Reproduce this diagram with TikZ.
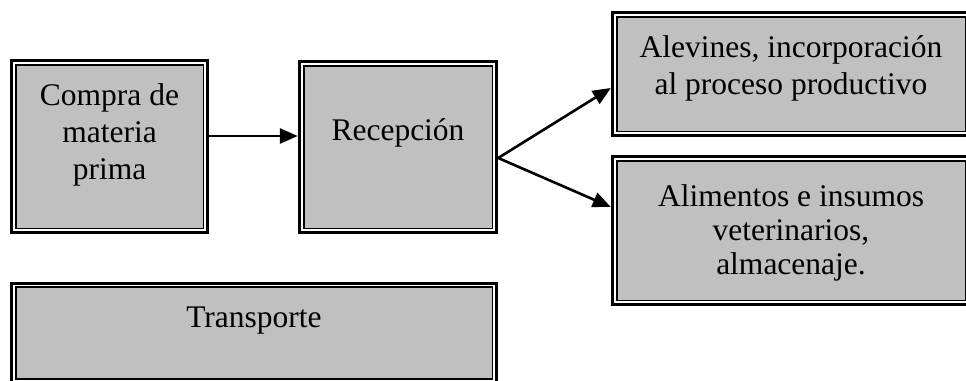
\documentclass[tikz,border=0pt]{standalone}
\usepackage{fontspec}
\setmainfont{Liberation Serif}
\usepackage{xcolor}
\usetikzlibrary{arrows.meta,positioning}
\definecolor{boxgray}{RGB}{192,192,192}

\begin{document}
\begin{tikzpicture}[x=1pt,y=-1pt,>={Triangle[length=18pt,width=15pt]},
  caja/.style={draw,line width=3.4pt,fill=white,inner sep=0pt},
  marco/.style={line width=1.8pt,fill=boxgray},
  txt/.style={inner sep=0pt,align=center,font=\fontsize{31.5}{34}\selectfont},
  flecha/.style={->,line width=2.6pt}]
  \useasboundingbox (0,0) rectangle (966,380);
  \clip (0,0) rectangle (966,380);
  % cajas
  \node[caja,minimum width=196pt,minimum height=172pt] (compra) at (109.5,146.5) {};
  \node[caja,minimum width=197pt,minimum height=171pt] (recep) at (398,147) {};
  \node[caja,minimum width=357pt,minimum height=123pt] (alev) at (791,74) {};
  \node[caja,minimum width=357pt,minimum height=148pt] (alim) at (791,230.5) {};
  \node[caja,minimum width=485pt,minimum height=99.5pt] (trans) at (254,333) {};
  % marco interior
  \draw[marco] ([xshift=5.8pt,yshift=-5.8pt]compra.north west) rectangle ([xshift=-5.8pt,yshift=5.8pt]compra.south east);
  \draw[marco] ([xshift=5.8pt,yshift=-5.8pt]recep.north west) rectangle ([xshift=-5.8pt,yshift=5.8pt]recep.south east);
  \draw[marco] ([xshift=5.8pt,yshift=-5.8pt]alev.north west) rectangle ([xshift=-5.8pt,yshift=5.8pt]alev.south east);
  \draw[marco] ([xshift=5.8pt,yshift=-5.8pt]alim.north west) rectangle ([xshift=-5.8pt,yshift=5.8pt]alim.south east);
  \draw[marco] ([xshift=5.8pt,yshift=-5.8pt]trans.north west) rectangle ([xshift=-5.8pt,yshift=5.8pt]trans.south east);
  % textos
  \node[txt,font=\fontsize{31.5}{37}\selectfont,below=25pt of compra.north] (compra-t) {Compra de\\materia\\prima};
  \node[txt,below=59pt of recep.north] (recep-t) {Recepción};
  \node[txt,font=\fontsize{31.5}{37}\selectfont,below=25pt of alev.north] (alev-t) {Alevines, incorporación\\al proceso productivo};
  \node[txt,below=30pt of alim.north] (alim-t) {Alimentos e insumos\\veterinarios,\\almacenaje.};
  \node[txt,below=25pt of trans.north] (trans-t) {Transporte};
  % flechas
  \draw[flecha] ([yshift=10.5pt]compra.east) -- ([yshift=11pt]recep.west);
  \draw[flecha] ([yshift=-11pt]recep.east) -- ([yshift=-14pt]alev.west);
  \draw[flecha] ([yshift=-11pt]recep.east) -- ([yshift=23.5pt]alim.west);
\end{tikzpicture}
\end{document}
